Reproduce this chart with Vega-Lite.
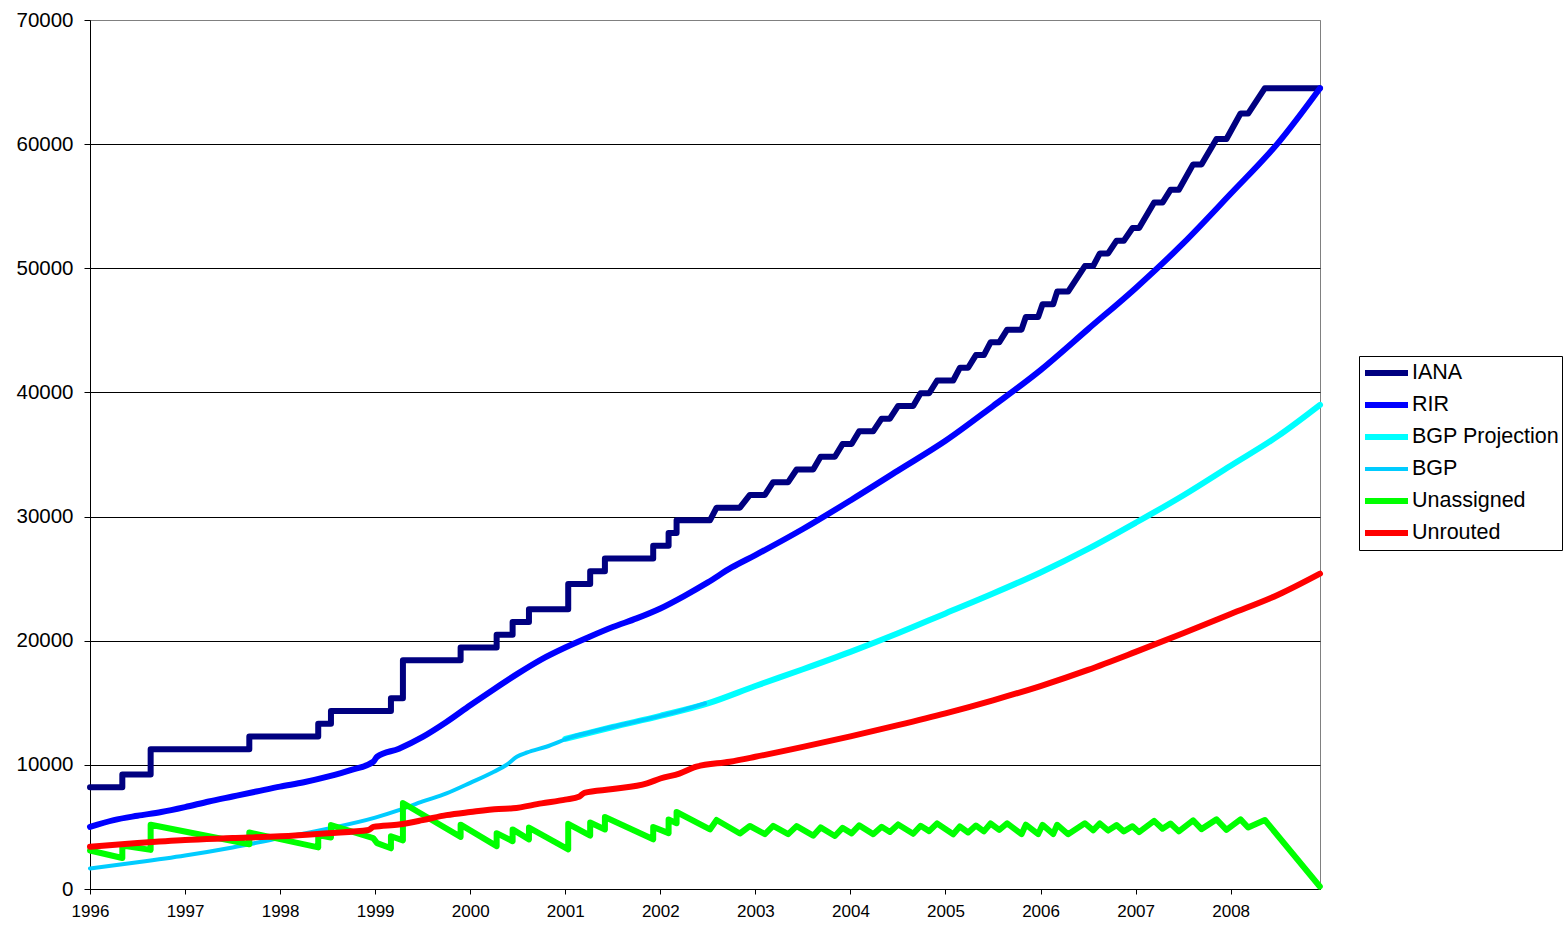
{
"$schema":"https://vega.github.io/schema/vega-lite/v6.json",
"width":1230,"height":869,
"autosize":{"type":"none"},
"padding":{"left":90,"top":20,"right":246,"bottom":36},
"background":"white",
"config":{
 "font":"Liberation Sans",
 "view":{"stroke":"#808080","strokeWidth":1},
 "axis":{"labelFont":"Liberation Sans","labelColor":"#000","domainColor":"#000","tickColor":"#000","domainWidth":1,"tickWidth":1,"labelFlush":false,"labelOverlap":false,"title":null},
 "legend":{"orient":"none","legendX":1269,"legendY":336,"strokeColor":"#000","fillColor":"#fff","padding":3,"symbolType":"stroke","symbolSize":1849,"symbolStrokeWidth":6,"labelFont":"Liberation Sans","labelFontSize":21.5,"labelColor":"#000","clipHeight":28,"rowPadding":4,"labelOffset":1,"symbolOffset":0}
},
"data":{"values":[
{"series":"IANA","year":1996,"value":8192},
{"series":"IANA","year":1996.34,"value":8192},
{"series":"IANA","year":1996.34,"value":9216},
{"series":"IANA","year":1996.638,"value":9216},
{"series":"IANA","year":1996.638,"value":11264},
{"series":"IANA","year":1997.676,"value":11264},
{"series":"IANA","year":1997.676,"value":12288},
{"series":"IANA","year":1998.401,"value":12288},
{"series":"IANA","year":1998.401,"value":13312},
{"series":"IANA","year":1998.535,"value":13312},
{"series":"IANA","year":1998.535,"value":14336},
{"series":"IANA","year":1999.166,"value":14336},
{"series":"IANA","year":1999.166,"value":15360},
{"series":"IANA","year":1999.292,"value":15360},
{"series":"IANA","year":1999.292,"value":18432},
{"series":"IANA","year":1999.899,"value":18432},
{"series":"IANA","year":1999.899,"value":19456},
{"series":"IANA","year":2000.278,"value":19456},
{"series":"IANA","year":2000.278,"value":20480},
{"series":"IANA","year":2000.446,"value":20480},
{"series":"IANA","year":2000.446,"value":21504},
{"series":"IANA","year":2000.618,"value":21504},
{"series":"IANA","year":2000.618,"value":22528},
{"series":"IANA","year":2001.031,"value":22528},
{"series":"IANA","year":2001.031,"value":24576},
{"series":"IANA","year":2001.262,"value":24576},
{"series":"IANA","year":2001.262,"value":25600},
{"series":"IANA","year":2001.417,"value":25600},
{"series":"IANA","year":2001.417,"value":26624},
{"series":"IANA","year":2001.925,"value":26624},
{"series":"IANA","year":2001.925,"value":27648},
{"series":"IANA","year":2002.087,"value":27648},
{"series":"IANA","year":2002.087,"value":28672},
{"series":"IANA","year":2002.171,"value":28672},
{"series":"IANA","year":2002.171,"value":29696},
{"series":"IANA","year":2002.522,"value":29696},
{"series":"IANA","year":2002.592,"value":30720},
{"series":"IANA","year":2002.837,"value":30720},
{"series":"IANA","year":2002.942,"value":31744},
{"series":"IANA","year":2003.1,"value":31744},
{"series":"IANA","year":2003.187,"value":32768},
{"series":"IANA","year":2003.345,"value":32768},
{"series":"IANA","year":2003.434,"value":33792},
{"series":"IANA","year":2003.608,"value":33792},
{"series":"IANA","year":2003.686,"value":34816},
{"series":"IANA","year":2003.836,"value":34816},
{"series":"IANA","year":2003.917,"value":35840},
{"series":"IANA","year":2004.012,"value":35840},
{"series":"IANA","year":2004.092,"value":36864},
{"series":"IANA","year":2004.239,"value":36864},
{"series":"IANA","year":2004.328,"value":37888},
{"series":"IANA","year":2004.415,"value":37888},
{"series":"IANA","year":2004.502,"value":38912},
{"series":"IANA","year":2004.66,"value":38912},
{"series":"IANA","year":2004.738,"value":39936},
{"series":"IANA","year":2004.828,"value":39936},
{"series":"IANA","year":2004.912,"value":40960},
{"series":"IANA","year":2005.081,"value":40960},
{"series":"IANA","year":2005.151,"value":41984},
{"series":"IANA","year":2005.238,"value":41984},
{"series":"IANA","year":2005.32,"value":43008},
{"series":"IANA","year":2005.404,"value":43008},
{"series":"IANA","year":2005.474,"value":44032},
{"series":"IANA","year":2005.565,"value":44032},
{"series":"IANA","year":2005.649,"value":45056},
{"series":"IANA","year":2005.8,"value":45056},
{"series":"IANA","year":2005.845,"value":46080},
{"series":"IANA","year":2005.975,"value":46080},
{"series":"IANA","year":2006.021,"value":47104},
{"series":"IANA","year":2006.133,"value":47104},
{"series":"IANA","year":2006.175,"value":48128},
{"series":"IANA","year":2006.29,"value":48128},
{"series":"IANA","year":2006.466,"value":50176},
{"series":"IANA","year":2006.553,"value":50176},
{"series":"IANA","year":2006.624,"value":51200},
{"series":"IANA","year":2006.711,"value":51200},
{"series":"IANA","year":2006.8,"value":52224},
{"series":"IANA","year":2006.876,"value":52224},
{"series":"IANA","year":2006.968,"value":53248},
{"series":"IANA","year":2007.037,"value":53248},
{"series":"IANA","year":2007.195,"value":55296},
{"series":"IANA","year":2007.283,"value":55296},
{"series":"IANA","year":2007.367,"value":56320},
{"series":"IANA","year":2007.455,"value":56320},
{"series":"IANA","year":2007.605,"value":58368},
{"series":"IANA","year":2007.693,"value":58368},
{"series":"IANA","year":2007.851,"value":60416},
{"series":"IANA","year":2007.956,"value":60416},
{"series":"IANA","year":2008.104,"value":62464},
{"series":"IANA","year":2008.184,"value":62464},
{"series":"IANA","year":2008.36,"value":64512},
{"series":"IANA","year":2008.938,"value":64512},
{"series":"RIR","year":1996,"value":5000},
{"series":"RIR","year":1996.25,"value":5550},
{"series":"RIR","year":1996.5,"value":5900},
{"series":"RIR","year":1996.75,"value":6200},
{"series":"RIR","year":1997,"value":6600},
{"series":"RIR","year":1997.25,"value":7050},
{"series":"RIR","year":1997.5,"value":7450},
{"series":"RIR","year":1997.75,"value":7850},
{"series":"RIR","year":1998,"value":8250},
{"series":"RIR","year":1998.25,"value":8600},
{"series":"RIR","year":1998.5,"value":9050},
{"series":"RIR","year":1998.75,"value":9600},
{"series":"RIR","year":1998.98,"value":10250},
{"series":"RIR","year":1999.02,"value":10650},
{"series":"RIR","year":1999.25,"value":11300},
{"series":"RIR","year":1999.5,"value":12250},
{"series":"RIR","year":1999.75,"value":13450},
{"series":"RIR","year":2000,"value":14800},
{"series":"RIR","year":2000.25,"value":16100},
{"series":"RIR","year":2000.5,"value":17350},
{"series":"RIR","year":2000.75,"value":18500},
{"series":"RIR","year":2001,"value":19450},
{"series":"RIR","year":2001.25,"value":20300},
{"series":"RIR","year":2001.5,"value":21100},
{"series":"RIR","year":2001.75,"value":21800},
{"series":"RIR","year":2002,"value":22600},
{"series":"RIR","year":2002.25,"value":23600},
{"series":"RIR","year":2002.5,"value":24700},
{"series":"RIR","year":2002.75,"value":25900},
{"series":"RIR","year":2003,"value":26900},
{"series":"RIR","year":2003.5,"value":29000},
{"series":"RIR","year":2004,"value":31300},
{"series":"RIR","year":2004.5,"value":33700},
{"series":"RIR","year":2005,"value":36100},
{"series":"RIR","year":2005.5,"value":38900},
{"series":"RIR","year":2006,"value":41800},
{"series":"RIR","year":2006.5,"value":45100},
{"series":"RIR","year":2007,"value":48400},
{"series":"RIR","year":2007.5,"value":52000},
{"series":"RIR","year":2008,"value":56000},
{"series":"RIR","year":2008.5,"value":60100},
{"series":"RIR","year":2008.94,"value":64500},
{"series":"BGP Projection","year":2001,"value":12100},
{"series":"BGP Projection","year":2001.5,"value":13050},
{"series":"BGP Projection","year":2002,"value":13950},
{"series":"BGP Projection","year":2002.5,"value":14950},
{"series":"BGP Projection","year":2003,"value":16350},
{"series":"BGP Projection","year":2003.5,"value":17700},
{"series":"BGP Projection","year":2004,"value":19100},
{"series":"BGP Projection","year":2004.5,"value":20600},
{"series":"BGP Projection","year":2005,"value":22200},
{"series":"BGP Projection","year":2005.5,"value":23800},
{"series":"BGP Projection","year":2006,"value":25500},
{"series":"BGP Projection","year":2006.5,"value":27400},
{"series":"BGP Projection","year":2007,"value":29500},
{"series":"BGP Projection","year":2007.5,"value":31700},
{"series":"BGP Projection","year":2008,"value":34100},
{"series":"BGP Projection","year":2008.5,"value":36500},
{"series":"BGP Projection","year":2008.94,"value":39000},
{"series":"BGP","year":1996,"value":1650},
{"series":"BGP","year":1996.5,"value":2150},
{"series":"BGP","year":1997,"value":2700},
{"series":"BGP","year":1997.5,"value":3350},
{"series":"BGP","year":1998,"value":4100},
{"series":"BGP","year":1998.5,"value":4850},
{"series":"BGP","year":1999,"value":5750},
{"series":"BGP","year":1999.25,"value":6350},
{"series":"BGP","year":1999.5,"value":7050},
{"series":"BGP","year":1999.75,"value":7700},
{"series":"BGP","year":2000,"value":8550},
{"series":"BGP","year":2000.25,"value":9450},
{"series":"BGP","year":2000.38,"value":9990},
{"series":"BGP","year":2000.49,"value":10650},
{"series":"BGP","year":2000.6,"value":11000},
{"series":"BGP","year":2000.8,"value":11460},
{"series":"BGP","year":2001.08,"value":12270},
{"series":"BGP","year":2001.25,"value":12600},
{"series":"BGP","year":2001.5,"value":13070},
{"series":"BGP","year":2001.75,"value":13500},
{"series":"BGP","year":2002,"value":13950},
{"series":"BGP","year":2002.25,"value":14450},
{"series":"BGP","year":2002.47,"value":14950},
{"series":"Unassigned","year":1996,"value":3100},
{"series":"Unassigned","year":1996.34,"value":2500},
{"series":"Unassigned","year":1996.34,"value":3500},
{"series":"Unassigned","year":1996.638,"value":3150},
{"series":"Unassigned","year":1996.638,"value":5180},
{"series":"Unassigned","year":1997.676,"value":3600},
{"series":"Unassigned","year":1997.676,"value":4550},
{"series":"Unassigned","year":1998.401,"value":3350},
{"series":"Unassigned","year":1998.401,"value":4350},
{"series":"Unassigned","year":1998.535,"value":4150},
{"series":"Unassigned","year":1998.535,"value":5150},
{"series":"Unassigned","year":1998.98,"value":4100},
{"series":"Unassigned","year":1999.02,"value":3700},
{"series":"Unassigned","year":1999.166,"value":3280},
{"series":"Unassigned","year":1999.166,"value":4250},
{"series":"Unassigned","year":1999.292,"value":3920},
{"series":"Unassigned","year":1999.292,"value":6930},
{"series":"Unassigned","year":1999.899,"value":4200},
{"series":"Unassigned","year":1999.899,"value":5180},
{"series":"Unassigned","year":2000.278,"value":3450},
{"series":"Unassigned","year":2000.278,"value":4500},
{"series":"Unassigned","year":2000.446,"value":3850},
{"series":"Unassigned","year":2000.446,"value":4800},
{"series":"Unassigned","year":2000.618,"value":4000},
{"series":"Unassigned","year":2000.618,"value":4950},
{"series":"Unassigned","year":2001.031,"value":3200},
{"series":"Unassigned","year":2001.031,"value":5250},
{"series":"Unassigned","year":2001.262,"value":4300},
{"series":"Unassigned","year":2001.262,"value":5350},
{"series":"Unassigned","year":2001.417,"value":4800},
{"series":"Unassigned","year":2001.417,"value":5800},
{"series":"Unassigned","year":2001.925,"value":4000},
{"series":"Unassigned","year":2001.925,"value":5000},
{"series":"Unassigned","year":2002.087,"value":4500},
{"series":"Unassigned","year":2002.087,"value":5600},
{"series":"Unassigned","year":2002.171,"value":5300},
{"series":"Unassigned","year":2002.171,"value":6200},
{"series":"Unassigned","year":2002.522,"value":4800},
{"series":"Unassigned","year":2002.592,"value":5560},
{"series":"Unassigned","year":2002.837,"value":4472},
{"series":"Unassigned","year":2002.942,"value":5076},
{"series":"Unassigned","year":2003.1,"value":4424},
{"series":"Unassigned","year":2003.187,"value":5083},
{"series":"Unassigned","year":2003.345,"value":4419},
{"series":"Unassigned","year":2003.434,"value":5069},
{"series":"Unassigned","year":2003.608,"value":4295},
{"series":"Unassigned","year":2003.686,"value":4960},
{"series":"Unassigned","year":2003.836,"value":4270},
{"series":"Unassigned","year":2003.917,"value":4922},
{"series":"Unassigned","year":2004.012,"value":4482},
{"series":"Unassigned","year":2004.092,"value":5122},
{"series":"Unassigned","year":2004.239,"value":4417},
{"series":"Unassigned","year":2004.328,"value":5014},
{"series":"Unassigned","year":2004.415,"value":4596},
{"series":"Unassigned","year":2004.502,"value":5202},
{"series":"Unassigned","year":2004.66,"value":4444},
{"series":"Unassigned","year":2004.738,"value":5094},
{"series":"Unassigned","year":2004.828,"value":4662},
{"series":"Unassigned","year":2004.912,"value":5282},
{"series":"Unassigned","year":2005.081,"value":4406},
{"series":"Unassigned","year":2005.151,"value":5038},
{"series":"Unassigned","year":2005.238,"value":4551},
{"series":"Unassigned","year":2005.32,"value":5116},
{"series":"Unassigned","year":2005.404,"value":4646},
{"series":"Unassigned","year":2005.474,"value":5278},
{"series":"Unassigned","year":2005.565,"value":4755},
{"series":"Unassigned","year":2005.649,"value":5292},
{"series":"Unassigned","year":2005.8,"value":4416},
{"series":"Unassigned","year":2005.845,"value":5179},
{"series":"Unassigned","year":2005.975,"value":4425},
{"series":"Unassigned","year":2006.021,"value":5165},
{"series":"Unassigned","year":2006.133,"value":4426},
{"series":"Unassigned","year":2006.175,"value":5173},
{"series":"Unassigned","year":2006.29,"value":4414},
{"series":"Unassigned","year":2006.466,"value":5300},
{"series":"Unassigned","year":2006.553,"value":4726},
{"series":"Unassigned","year":2006.624,"value":5282},
{"series":"Unassigned","year":2006.711,"value":4707},
{"series":"Unassigned","year":2006.8,"value":5144},
{"series":"Unassigned","year":2006.876,"value":4642},
{"series":"Unassigned","year":2006.968,"value":5059},
{"series":"Unassigned","year":2007.037,"value":4582},
{"series":"Unassigned","year":2007.195,"value":5492},
{"series":"Unassigned","year":2007.283,"value":4858},
{"series":"Unassigned","year":2007.367,"value":5278},
{"series":"Unassigned","year":2007.455,"value":4644},
{"series":"Unassigned","year":2007.605,"value":5528},
{"series":"Unassigned","year":2007.693,"value":4824},
{"series":"Unassigned","year":2007.851,"value":5608},
{"series":"Unassigned","year":2007.956,"value":4768},
{"series":"Unassigned","year":2008.104,"value":5611},
{"series":"Unassigned","year":2008.184,"value":4955},
{"series":"Unassigned","year":2008.36,"value":5560},
{"series":"Unassigned","year":2008.938,"value":200},
{"series":"Unrouted","year":1996,"value":3400},
{"series":"Unrouted","year":1996.5,"value":3700},
{"series":"Unrouted","year":1997,"value":3950},
{"series":"Unrouted","year":1997.5,"value":4100},
{"series":"Unrouted","year":1998,"value":4250},
{"series":"Unrouted","year":1998.5,"value":4500},
{"series":"Unrouted","year":1998.93,"value":4750},
{"series":"Unrouted","year":1998.98,"value":5000},
{"series":"Unrouted","year":1999.25,"value":5200},
{"series":"Unrouted","year":1999.5,"value":5550},
{"series":"Unrouted","year":1999.75,"value":5950},
{"series":"Unrouted","year":2000,"value":6200},
{"series":"Unrouted","year":2000.3,"value":6450},
{"series":"Unrouted","year":2000.45,"value":6500},
{"series":"Unrouted","year":2000.75,"value":6900},
{"series":"Unrouted","year":2001,"value":7200},
{"series":"Unrouted","year":2001.15,"value":7450},
{"series":"Unrouted","year":2001.2,"value":7750},
{"series":"Unrouted","year":2001.5,"value":8050},
{"series":"Unrouted","year":2001.86,"value":8500},
{"series":"Unrouted","year":2002,"value":8900},
{"series":"Unrouted","year":2002.2,"value":9300},
{"series":"Unrouted","year":2002.38,"value":9850},
{"series":"Unrouted","year":2002.73,"value":10250},
{"series":"Unrouted","year":2003,"value":10650},
{"series":"Unrouted","year":2003.5,"value":11450},
{"series":"Unrouted","year":2004,"value":12300},
{"series":"Unrouted","year":2004.5,"value":13200},
{"series":"Unrouted","year":2005,"value":14150},
{"series":"Unrouted","year":2005.5,"value":15200},
{"series":"Unrouted","year":2006,"value":16350},
{"series":"Unrouted","year":2006.5,"value":17650},
{"series":"Unrouted","year":2007,"value":19100},
{"series":"Unrouted","year":2007.5,"value":20600},
{"series":"Unrouted","year":2008,"value":22150},
{"series":"Unrouted","year":2008.5,"value":23700},
{"series":"Unrouted","year":2008.94,"value":25400}
]},
"encoding":{
 "x":{"field":"year","type":"quantitative","scale":{"domain":[1996,2008.94],"nice":false,"zero":false},
  "axis":{"values":[1996,1997,1998,1999,2000,2001,2002,2003,2004,2005,2006,2007,2008],"format":"d","labelFontSize":17,"tickSize":5,"labelPadding":9,"grid":false}},
 "y":{"field":"value","type":"quantitative","scale":{"domain":[0,70000],"nice":false},
  "axis":{"values":[0,10000,20000,30000,40000,50000,60000,70000],"format":"d","labelFontSize":20.5,"tickSize":6,"labelPadding":11,"grid":true,"gridWidth":1,"gridColor":{"condition":{"test":"datum.value == 70000","value":"#808080"},"value":"#000000"}}},
 "color":{"field":"series","type":"nominal","title":null,
  "scale":{"domain":["IANA","RIR","BGP Projection","BGP","Unassigned","Unrouted"],"range":["#000080","#0000FF","#00FFFF","#00CCFF","#00FF00","#FF0000"]}},
 "strokeWidth":{"field":"series","type":"nominal","title":null,
  "scale":{"type":"ordinal","domain":["IANA","RIR","BGP Projection","BGP","Unassigned","Unrouted"],"range":[6,6,6,4,6,6]}}
},
"layer":[
 {"transform":[{"filter":"datum.series == 'IANA'"}],
  "mark":{"type":"line","strokeJoin":"round","strokeCap":"round","clip":false}},
 {"transform":[{"filter":"datum.series == 'RIR' || datum.series == 'BGP Projection' || datum.series == 'BGP'"}],
  "mark":{"type":"line","interpolate":"monotone","strokeJoin":"round","strokeCap":"round","clip":false}},
 {"transform":[{"filter":"datum.series == 'Unassigned'"}],
  "mark":{"type":"line","strokeJoin":"round","strokeCap":"round","clip":false}},
 {"transform":[{"filter":"datum.series == 'Unrouted'"}],
  "mark":{"type":"line","interpolate":"monotone","strokeJoin":"round","strokeCap":"round","clip":false}}
]
}
